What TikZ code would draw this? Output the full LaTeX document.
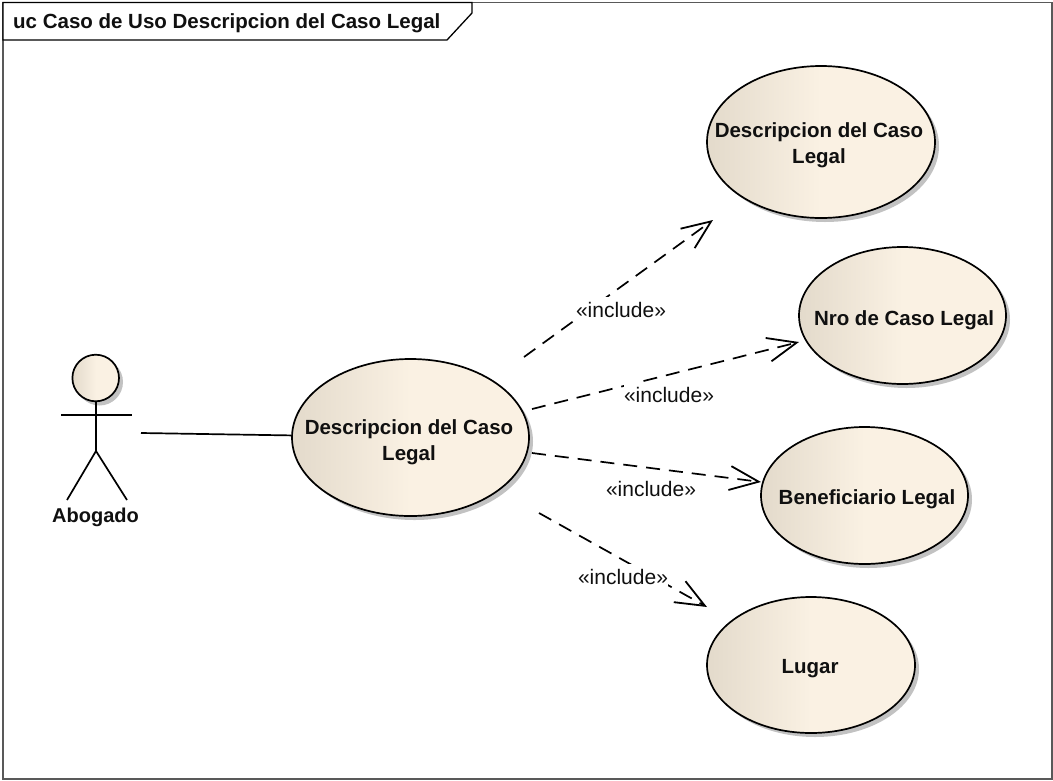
\documentclass[tikz,border=0pt]{standalone}
\usepackage{fontspec}
\setmainfont{Liberation Sans}
\usetikzlibrary{shapes.geometric,arrows.meta}
\definecolor{ucdark}{HTML}{E3DACB}
\definecolor{uclight}{HTML}{FAF1E3}
\definecolor{ucshadow}{HTML}{C2C2C2}
\definecolor{inkc}{HTML}{101010}
\newcommand{\ucnode}[6]{%
  \node[ucshadow shape,minimum width=#3pt,minimum height=#4pt] at ([shift={(4pt,-4pt)}]#1) {};
  \node[uccase,minimum width=#3pt,minimum height=#4pt] (#2) at (#1) {};
  \node[uctext] (#2t) at (#5) {#6};
}
\tikzset{
  x=1pt,y=-1pt,
  ucshadow shape/.style={ellipse,inner sep=0pt,fill=ucshadow,draw=none},
  uccase/.style={ellipse,inner sep=0pt,draw=black,line width=1.7pt,left color=ucdark,right color=uclight,middle color=uclight},
  uctext/.style={inner sep=0pt,align=center,font=\bfseries\fontsize{20.5}{26}\selectfont,text=inkc},
  inc/.style={draw=black,line width=1.7pt,dash pattern=on 14pt off 9pt,
     -{Straight Barb[length=29pt,width=24pt,line width=1.8pt]}},
  inclabel/.style={fill=white,inner sep=0pt,minimum height=27pt,font=\fontsize{21}{24}\selectfont,text=inkc},
  stick/.style={draw=black,line width=1.7pt},
}
\begin{document}
\begin{tikzpicture}
\useasboundingbox (0,0) rectangle (1053,780);
\fill[white] (0,0) rectangle (1053,780);
% frame
\draw[draw=black!65,line width=1.3pt] (3,2.5) rectangle (1052,779);
\draw[line width=1.3pt,fill=white] (3,2.5) -- (472,2.5) -- (472,13) -- (447,40) -- (3,40) -- cycle;
\node[anchor=west,inner sep=0pt,font=\bfseries\fontsize{20.5}{24}\selectfont,text=inkc] (title) at (13,23) {uc Caso de Uso Descripcion del Caso Legal};
% use cases
\ucnode{821,142}{e1}{228}{152}{819,145}{Descripcion del Caso\\Legal}
\ucnode{902.5,315.5}{e2}{207}{137}{904,320}{Nro de Caso Legal}
\ucnode{864.5,495.5}{e3}{207}{137}{867,499}{Beneficiario Legal}
\ucnode{811,665}{e4}{208}{136}{810,669}{Lugar}
\ucnode{410.5,437.5}{main}{237}{157}{409,442}{Descripcion del Caso\\Legal}
% actor
\fill[ucshadow] (99.5,382) circle (23.5);
\shade[left color=ucdark,right color=uclight,middle color=uclight,draw=black,line width=1.7pt] (95.7,378) circle (23.3);
\coordinate (neck) at (96,402);
\coordinate (hip) at (96,451);
\draw[stick] (neck) -- (hip);
\coordinate (armL) at (61,415);
\coordinate (armR) at (132,415);
\draw[stick] (armL) -- (armR);
\coordinate (legL) at (67,500);
\coordinate (legR) at (127,500);
\draw[stick] (legL) -- (hip) -- (legR);
\node[font=\bfseries\fontsize{20}{24}\selectfont,text=inkc,inner sep=0pt] (actor) at (95.5,517) {Abogado};
\coordinate (actorEnd) at (141,433);
\draw[stick] (actorEnd) -- (main.179);
% includes
\coordinate (s1) at (524,357); \coordinate (t1) at (713,220);
\coordinate (s2) at (532,409); \coordinate (t2) at (799,342);
\coordinate (s3) at (532,453); \coordinate (t3) at (761,482);
\coordinate (s4) at (539,513); \coordinate (t4) at (707,607);
\draw[inc] (s1) -- (t1);
\draw[inc] (s2) -- (t2);
\draw[inc] (s3) -- (t3);
\draw[inc] (s4) -- (t4);
\node[inclabel] (l1) at (621,310) {«include»};
\node[inclabel] (l2) at (669,395) {«include»};
\node[inclabel] (l3) at (651,489) {«include»};
\node[inclabel] (l4) at (623,577) {«include»};
\end{tikzpicture}
\end{document}
